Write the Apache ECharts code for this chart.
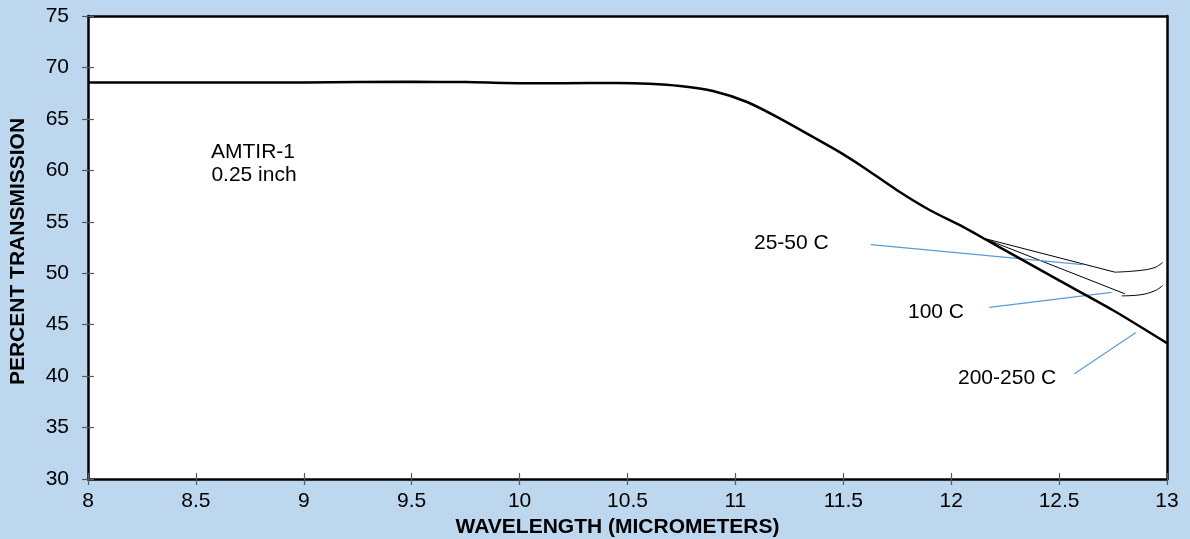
<!DOCTYPE html>
<html><head><meta charset="utf-8">
<script src="https://cdn.jsdelivr.net/npm/echarts@6/dist/echarts.min.js"></script>
<style>html,body{margin:0;padding:0;background:#BDD7EE;}#c{width:1190px;height:539px;}</style>
</head><body><div id="c"></div>
<script>
// Main transmission curve (wavelength µm, percent)
const mainCurve = [
  [8.0,68.53],[8.5,68.53],[9.0,68.54],[9.5,68.6],[9.75,68.58],[10.0,68.47],[10.2,68.47],[10.45,68.5],[10.6,68.42],
  [10.743,68.2],[10.896,67.71],[11.054,66.64],[11.207,65.03],[11.36,63.24],[11.485,61.75],[11.591,60.33],
  [11.749,58.07],[11.902,56.12],[12.055,54.5],[12.18,53.04],[12.5,49.3],[12.75,46.4],[13.0,43.2]
];
// Temperature curves (thin)
const curve2550 = [[12.15,53.4],[12.759,50.1]];
const hook2550 = [[12.759,50.1],[12.875,50.27],[12.944,50.56],[12.98,51.05]];
const curve100 = [[12.15,53.4],[12.805,48.0]];
const hook100 = [[12.79,47.8],[12.875,47.9],[12.944,48.3],[12.98,48.8]];
// Leader lines
const leader2550 = [[11.628,52.77],[12.611,50.83]];
const leader100 = [[12.177,46.68],[12.743,48.14]];
const leader200 = [[12.571,40.24],[12.856,44.25]];
// Axis ticks
const xTicks = [8,8.5,9,9.5,10,10.5,11,11.5,12,12.5,13];
const yTicks = [30,35,40,45,50,55,60,65,70,75];

const FONT = 'Liberation Sans, Arial, sans-serif';
const FS = 21;
const chart = echarts.init(document.getElementById('c'));
const thin = (d, s) => ({type:'line', data:d, symbol:'none', smooth:s, lineStyle:{color:'#000', width:1}, z:3});
const blue = (d) => ({type:'line', data:d, symbol:'none', lineStyle:{color:'#5B9BD5', width:1.2}, z:4});
chart.setOption({
  backgroundColor:'#BDD7EE',
  animation:false,
  grid:{left:88, right:23, top:16, bottom:60, show:true, backgroundColor:'#fff', borderWidth:0, containLabel:false, outerBoundsMode:'none'},
  xAxis:[
    {type:'value', min:8, max:13, interval:0.5, position:'bottom',
     axisLine:{show:true, onZero:false, lineStyle:{color:'#000', width:2.5}},
     axisTick:{show:true, inside:false, length:6, lineStyle:{color:'#595959', width:1.2}},
     axisLabel:{color:'#000', fontSize:FS, fontFamily:FONT, margin:12, formatter:v=>String(v)},
     splitLine:{show:false},
     name:'WAVELENGTH (MICROMETERS)', nameLocation:'middle', nameGap:29,
     nameTextStyle:{color:'#000', fontSize:FS, fontWeight:'bold', fontFamily:FONT, padding:[0,20,0,0]}},
    {type:'value', min:8, max:13, interval:0.5, position:'bottom',
     axisLine:{show:false}, axisTick:{show:true, inside:true, length:6, lineStyle:{color:'#595959', width:1.2}},
     axisLabel:{show:false}, splitLine:{show:false}},
    {type:'value', min:8, max:13, position:'top',
     axisLine:{show:true, lineStyle:{color:'#000', width:2.5}}, axisTick:{show:false}, axisLabel:{show:false}, splitLine:{show:false}}
  ],
  yAxis:[
    {type:'value', min:30, max:75, interval:5, position:'left',
     axisLine:{show:true, onZero:false, lineStyle:{color:'#000', width:2.5}},
     axisTick:{show:true, inside:false, length:6, lineStyle:{color:'#595959', width:1.2}},
     axisLabel:{color:'#000', fontSize:FS, fontFamily:FONT, margin:19},
     splitLine:{show:false},
     name:'PERCENT TRANSMISSION', nameLocation:'middle', nameGap:59, nameRotate:90,
     nameTextStyle:{color:'#000', fontSize:FS, fontWeight:'bold', fontFamily:FONT, padding:[0,8,0,0]}},
    {type:'value', min:30, max:75, interval:5, position:'left',
     axisLine:{show:false}, axisTick:{show:true, inside:true, length:6, lineStyle:{color:'#595959', width:1.2}},
     axisLabel:{show:false}, splitLine:{show:false}},
    {type:'value', min:30, max:75, position:'right',
     axisLine:{show:true, lineStyle:{color:'#000', width:2.5}}, axisTick:{show:false}, axisLabel:{show:false}, splitLine:{show:false}}
  ],
  series:[
    {type:'line', data:mainCurve, symbol:'none', smooth:0.25, lineStyle:{color:'#000', width:2.5}, z:5},
    thin(curve2550, false), thin(hook2550, 0.4), thin(curve100, false), thin(hook100, 0.4),
    blue(leader2550), blue(leader100), blue(leader200)
  ],
  graphic:[
    {type:'text', style:{text:'AMTIR-1', x:253, y:152, fill:'#000', font:FS+'px '+FONT, align:'center', verticalAlign:'middle'}},
    {type:'text', style:{text:'0.25 inch', x:254, y:175, fill:'#000', font:FS+'px '+FONT, align:'center', verticalAlign:'middle'}},
    {type:'text', style:{text:'25-50 C', x:754, y:243, fill:'#000', font:FS+'px '+FONT, align:'left', verticalAlign:'middle'}},
    {type:'text', style:{text:'100 C', x:908, y:312, fill:'#000', font:FS+'px '+FONT, align:'left', verticalAlign:'middle'}},
    {type:'text', style:{text:'200-250 C', x:958, y:378, fill:'#000', font:FS+'px '+FONT, align:'left', verticalAlign:'middle'}}
  ]
});
</script></body></html>
